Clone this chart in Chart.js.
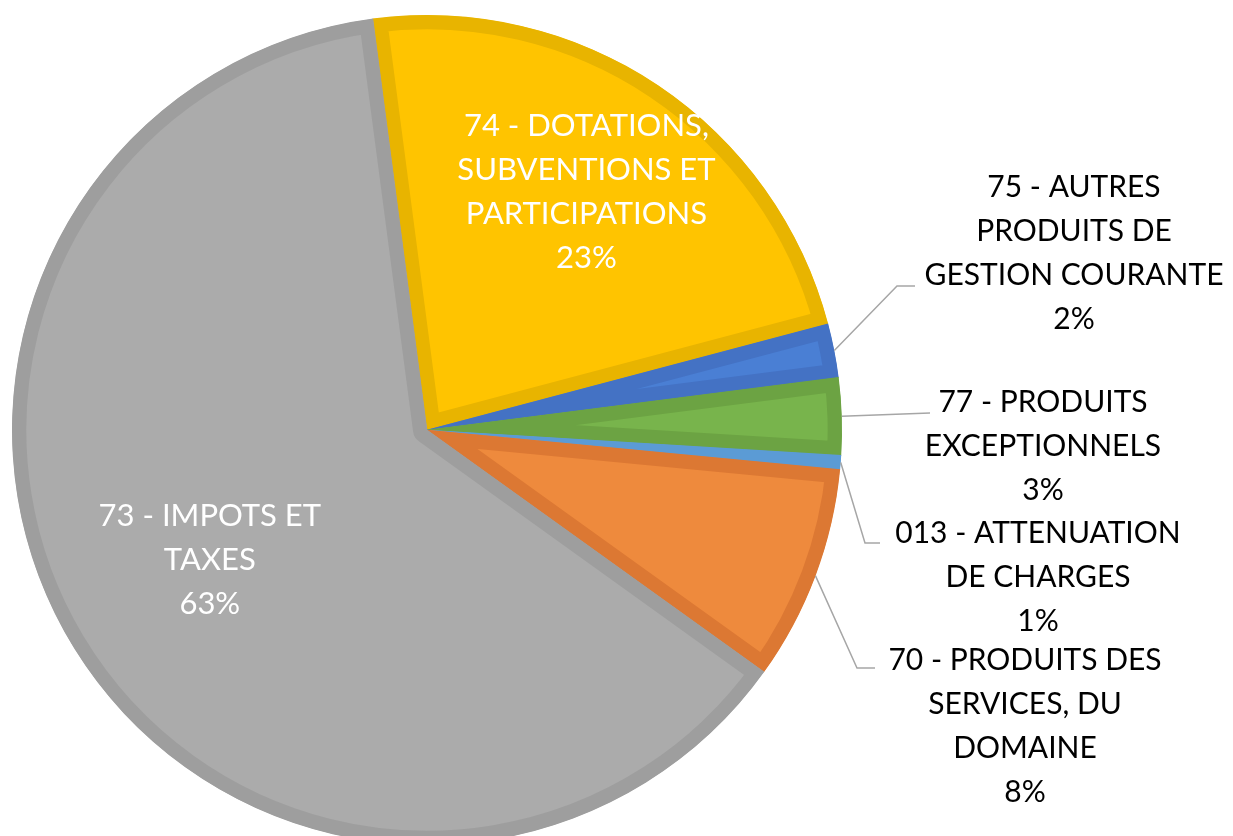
<!DOCTYPE html>
<html>
<head>
<meta charset="utf-8">
<script src="https://cdn.jsdelivr.net/npm/chart.js@4.4.1/dist/chart.umd.min.js"></script>
<style>
  html, body { margin: 0; padding: 0; background: #fff; overflow: hidden; }
  canvas { display: block; }
</style>
</head>
<body>
<canvas id="pieChart" width="1233" height="860"></canvas>
<script>
// ======================
// DATA
// ======================
const categories = [
    ["74 - DOTATIONS,", "SUBVENTIONS ET", "PARTICIPATIONS"],
    ["75 - AUTRES", "PRODUITS DE", "GESTION COURANTE"],
    ["77 - PRODUITS", "EXCEPTIONNELS"],
    ["013 - ATTENUATION", "DE CHARGES"],
    ["70 - PRODUITS DES", "SERVICES, DU", "DOMAINE"],
    ["73 - IMPOTS ET", "TAXES"]
];
const shares = [23.0, 2.1, 3.0, 0.55, 8.4, 63.1];

// ======================
// STYLE
// ======================
const fillColors   = ["#FFC400", "#4A7FD4", "#78B44C", "#5B9BD5", "#EE8A3D", "#ABABAB"];
const borderColors = ["#E8B400", "#4472C4", "#6CA343", "#5B9BD5", "#DC7833", "#9E9E9E"];

// label placement: inside labels sit on the slice mid-angle, outside labels get a leader line
const labelLayout = [
    { inside: true, r: 0.69, color: "#FFFFFF", font: "31px Lato" },
    { inside: false, cx: 1074, top: 187, elbow: [897, 286], end: [915, 286], color: "#000000", font: "30px Lato" },
    { inside: false, cx: 1043, top: 402, elbow: [930, 413], end: [930, 413], color: "#000000", font: "30px Lato" },
    { inside: false, cx: 1038, top: 533, elbow: [865, 543], end: [880, 543], color: "#000000", font: "30px Lato" },
    { inside: false, cx: 1025, top: 660, elbow: [857, 668], end: [875, 668], color: "#000000", font: "30px Lato" },
    { inside: true, r: 0.61, color: "#FFFFFF", font: "31px Lato" }
];
const lineHeight = 44;

// ======================
// LABEL PLUGIN
// ======================
const sliceLabels = {
    id: "sliceLabels",
    afterDatasetsDraw(chart) {
        const ctx = chart.ctx;
        const meta = chart.getDatasetMeta(0);
        const values = chart.data.datasets[0].data;
        const total = values.reduce((a, b) => a + b, 0);

        ctx.save();
        ctx.textAlign = "center";
        ctx.textBaseline = "middle";

        meta.data.forEach((arc, i) => {
            const p = arc.getProps(["x", "y", "startAngle", "endAngle", "outerRadius"], true);
            const mid = (p.startAngle + p.endAngle) / 2;
            const layout = labelLayout[i];
            const lines = chart.data.labels[i].concat([Math.round(values[i] / total * 100) + "%"]);

            let cx, top;
            if (layout.inside) {
                cx = p.x + Math.cos(mid) * p.outerRadius * layout.r;
                const cy = p.y + Math.sin(mid) * p.outerRadius * layout.r;
                top = cy - (lines.length - 1) * lineHeight / 2;
            } else {
                cx = layout.cx;
                top = layout.top;
                // leader line from the slice edge
                ctx.strokeStyle = "#A6A6A6";
                ctx.lineWidth = 1.5;
                ctx.beginPath();
                ctx.moveTo(p.x + Math.cos(mid) * p.outerRadius, p.y + Math.sin(mid) * p.outerRadius);
                ctx.lineTo(layout.elbow[0], layout.elbow[1]);
                ctx.lineTo(layout.end[0], layout.end[1]);
                ctx.stroke();
            }

            ctx.font = layout.font;
            ctx.fillStyle = layout.color;
            lines.forEach((line, k) => {
                ctx.fillText(line, cx, top + k * lineHeight);
            });
        });
        ctx.restore();
    }
};

// ======================
// RENDER PIE CHART
// ======================
new Chart(document.getElementById("pieChart"), {
    type: "pie",
    data: {
        labels: categories,
        datasets: [{
            data: shares,
            backgroundColor: fillColors,
            borderColor: borderColors,
            borderWidth: 14,
            borderAlign: "inner",
            hoverBorderWidth: 0,
            hoverOffset: 0
        }]
    },
    options: {
        responsive: false,
        animation: false,
        rotation: -7.5,
        layout: { padding: { left: 12, top: 15, right: 391, bottom: 15 } },
        plugins: {
            legend: { display: false },
            tooltip: { enabled: false }
        },
        events: []
    },
    plugins: [sliceLabels]
});
</script>
</body>
</html>
